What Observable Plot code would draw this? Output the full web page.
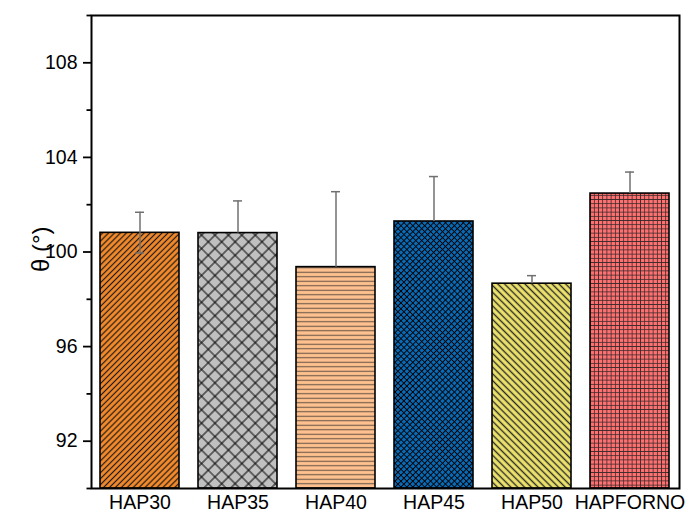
<!DOCTYPE html>
<html><head><meta charset="utf-8">
<script src="https://cdn.jsdelivr.net/npm/d3@7"></script>
<script src="https://cdn.jsdelivr.net/npm/@observablehq/plot@0.6"></script>
<style>body{margin:0;background:#fff}</style>
</head><body><div id="chart"></div>
<script>
const categories = ["HAP30", "HAP35", "HAP40", "HAP45", "HAP50", "HAPFORNO"];
const values = [100.81, 100.80, 99.36, 101.29, 98.66, 102.47];
const errUp = [0.87, 1.36, 3.19, 1.90, 0.34, 0.91];
const errDown = [0.85, 0, 0, 0, 0, 0];
const fillColors = ["#F58A2A", "#C0C0C0", "#FFC18E", "#0A6CB8", "#EEE46C", "#FF7070"];
const hatchKinds = ["diagR", "cross", "horiz", "fineCross", "diagL", "grid"];
const yMajor = [92, 96, 100, 104, 108];
const yMinor = [90, 94, 98, 102, 106, 110];
const yLabel = "θ (°)";

const data = categories.map((c, i) => ({
  cat: c, value: values[i], hi: values[i] + errUp[i], lo: values[i] - errDown[i],
  hasLo: errDown[i] > 0, pattern: `url(#hatch${i})`
}));

const errColor = "#707070";
const plot = Plot.plot({
  width: 688, height: 516,
  marginLeft: 91, marginRight: 9, marginTop: 15, marginBottom: 28,
  style: {fontFamily: "'Liberation Sans', Arial, sans-serif", fontSize: "19.5px", color: "black", background: "white"},
  x: {domain: categories, paddingInner: 0.19, paddingOuter: 0.095, label: null},
  y: {domain: [90, 110], label: null},
  color: {type: "identity"},
  marks: [
    Plot.barY(data, {x: "cat", y1: 90, y2: "value", fill: "pattern", stroke: "black", strokeWidth: 1.6}),
    Plot.ruleX(data, {x: "cat", y1: "value", y2: "hi", stroke: errColor, strokeWidth: 1.5}),
    Plot.tickY(data, {x: "cat", y: "hi", stroke: errColor, strokeWidth: 1.5, insetLeft: 35, insetRight: 35}),
    Plot.ruleX(data.filter(d => d.hasLo), {x: "cat", y1: "lo", y2: "value", stroke: errColor, strokeWidth: 1.5}),
    Plot.tickY(data.filter(d => d.hasLo), {x: "cat", y: "lo", stroke: errColor, strokeWidth: 1.5, insetLeft: 35, insetRight: 35}),
    Plot.frame({stroke: "black", strokeWidth: 2}),
    Plot.axisY(yMajor, {tickSize: 8, tickPadding: 6, strokeWidth: 1.8, label: null}),
    Plot.axisY(yMinor, {tickSize: 4.5, tickFormat: () => "", strokeWidth: 1.8, label: null}),
    Plot.axisX({tickSize: 0, tickPadding: 7, label: null}),
    Plot.text([yLabel], {frameAnchor: "left", dx: -50, dy: 20, rotate: -90, fontSize: 24, text: d => d})
  ]
});

const svgEl = plot.tagName.toLowerCase() === "svg" ? plot : plot.querySelector("svg");
const defs = d3.select(svgEl).insert("defs", ":first-child");
function addPattern(i, bg, kind) {
  let size, rot = 0, path, stroke = "black", sw = 1;
  switch (kind) {
    case "diagR": size = 4.2; rot = 45; path = `M${size/2},0V${size}`; sw = 1.2; stroke = "#1a1a1a"; break;
    case "diagL": size = 4.8; rot = -45; path = `M${size/2},0V${size}`; sw = 1.4; stroke = "#2a2a2a"; break;
    case "cross": size = 9.5; rot = 45; path = `M${size/2},0V${size}M0,${size/2}H${size}`; sw = 1; break;
    case "fineCross": size = 4.2; rot = 45; path = `M${size/2},0V${size}M0,${size/2}H${size}`; sw = 1.0; break;
    case "horiz": size = 4.5; path = `M0,${size/2}H${size}`; sw = 1.1; stroke = "#6a5848"; break;
    case "grid": size = 4.2; path = `M${size/2},0V${size}M0,${size/2}H${size}`; sw = 0.8; stroke = "#3a2a2a"; break;
  }
  const p = defs.append("pattern").attr("id", `hatch${i}`)
    .attr("patternUnits", "userSpaceOnUse").attr("width", size).attr("height", size);
  if (rot) p.attr("patternTransform", `rotate(${rot})`);
  p.append("rect").attr("width", size).attr("height", size).attr("fill", bg);
  p.append("path").attr("d", path).attr("stroke", stroke).attr("stroke-width", sw).attr("fill", "none");
}
hatchKinds.forEach((k, i) => addPattern(i, fillColors[i], k));

document.getElementById("chart").append(plot);
</script>
</body></html>
